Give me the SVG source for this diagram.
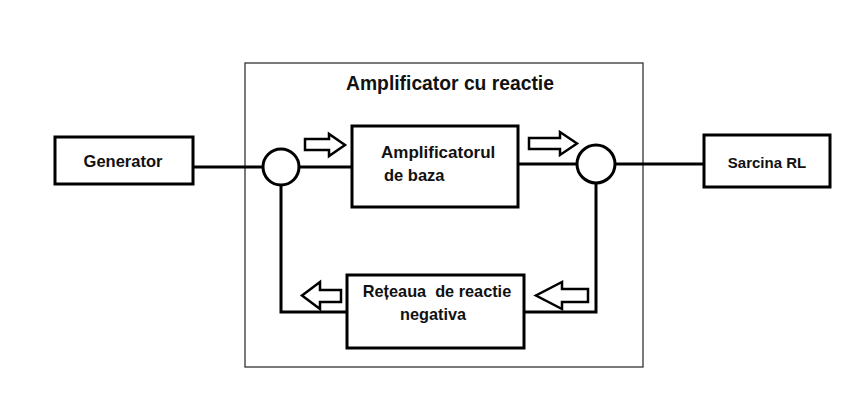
<svg xmlns="http://www.w3.org/2000/svg" width="865" height="404" viewBox="0 0 865 404">
<style>
.box{fill:#fff;stroke:#000;stroke-width:3}
.frame{fill:none;stroke:#333;stroke-width:1.3}
.ln{fill:none;stroke:#000;stroke-width:3}
.arr{fill:#fff;stroke:#000;stroke-width:2.5;stroke-linejoin:miter}
.t{font-family:"Liberation Sans",Arial,sans-serif;font-weight:bold;fill:#111}
</style>
<rect width="865" height="404" fill="#fff"/>
<g id="frame">
<rect class="frame" x="245" y="63" width="398" height="304"/>
<text class="t" x="450" y="90" font-size="19.3" text-anchor="middle">Amplificator cu reactie</text>
</g>
<g id="connectors">
<path class="ln" d="M193,167 H263"/>
<path class="ln" d="M299,167 H352"/>
<path class="ln" d="M518,164 H577"/>
<path class="ln" d="M615,164 H704"/>
<path class="ln" d="M596,183 V312 H524"/>
<path class="ln" d="M347,312 H281 V185"/>
<path class="arr" d="M305,139 H329 V134 L345,145 L329,156 V150 H305 Z"/>
<path class="arr" d="M529,138 H560 V132 L577,143.5 L560,155 V149 H529 Z"/>
<path class="arr" d="M341,290 H320 V282 L302,295.5 L320,309 V302 H341 Z"/>
<path class="arr" d="M588,289 H562 V282 L536,295.5 L562,309 V302 H588 Z"/>
</g>
<g id="generator">
<rect class="box" x="55" y="137" width="138" height="47"/>
<text class="t" x="123" y="167" font-size="16.5" text-anchor="middle">Generator</text>
</g>
<g id="sum1">
<circle class="box" cx="281" cy="167" r="18"/>
</g>
<g id="amplificator">
<rect class="box" x="352" y="126" width="166" height="81"/>
<text class="t" x="381" y="158" font-size="17">Amplificatorul</text>
<text class="t" x="384" y="181" font-size="16.5">de baza</text>
</g>
<g id="sum2">
<circle class="box" cx="596" cy="164" r="19"/>
</g>
<g id="sarcina">
<rect class="box" x="704" y="135" width="126" height="52"/>
<text class="t" x="767" y="168" font-size="15" text-anchor="middle">Sarcina RL</text>
</g>
<g id="retea">
<rect class="box" x="347" y="275" width="177" height="73"/>
<text class="t" x="437" y="297" font-size="16.3" text-anchor="middle" xml:space="preserve">Rețeaua  de reactie</text>
<text class="t" x="433" y="320" font-size="16.3" text-anchor="middle">negativa</text>
</g>
</svg>
